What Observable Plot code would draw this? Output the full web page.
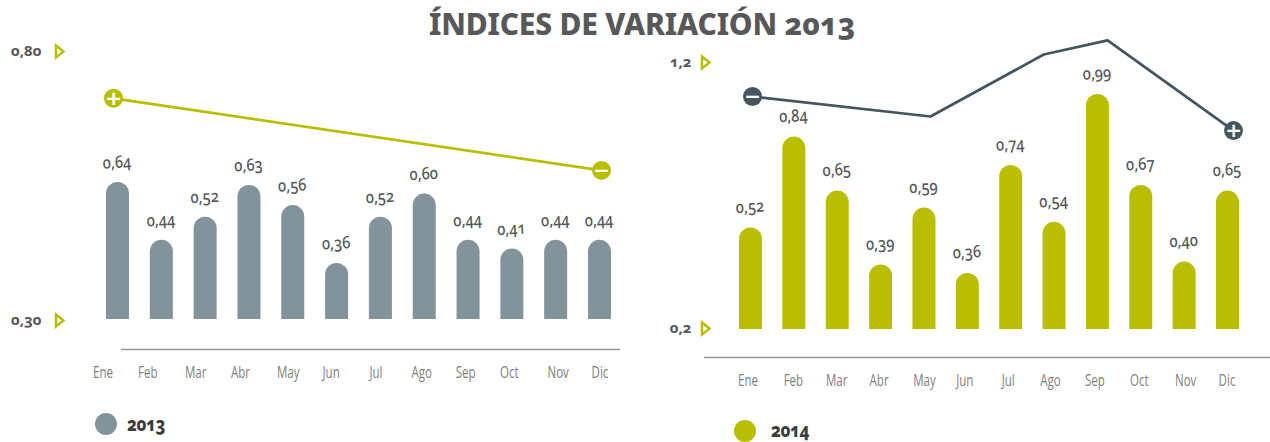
<!DOCTYPE html>
<html><head><meta charset="utf-8">
<script src="https://cdn.jsdelivr.net/npm/d3@7"></script>
<script src="https://cdn.jsdelivr.net/npm/@observablehq/plot@0.6"></script>
<style>
html,body{margin:0;padding:0;background:#fff;overflow:hidden}
#wrap{position:relative;width:1270px;height:442px}
#wrap svg{position:absolute;left:0;top:0;background:transparent}
#wrap svg text{font-feature-settings:"onum"}
h1{position:absolute;left:0;width:1284px;top:0;margin:0;text-align:center;font:800 30px/47px "Noto Sans";color:#58585a;font-feature-settings:"onum";letter-spacing:-.2px;z-index:2}
.lg{position:absolute;font:800 19px/24px "Noto Sans";color:#3c3c3c;font-feature-settings:"onum";letter-spacing:-.5px;transform:scaleX(.88);transform-origin:left}
.dotk{position:absolute;width:22px;height:22px;border-radius:50%}
</style></head><body>
<div id="wrap">
<h1>ÍNDICES DE VARIACIÓN 2013</h1>
<span class="dotk" style="left:95px;top:413px;background:#83939b"></span><span class="lg" style="left:127px;top:412px">2013</span>
<span class="dotk" style="left:734px;top:420px;background:#b9bf00"></span><span class="lg" style="left:771px;top:418px">2014</span>
</div>
<script>
const months = ["Ene","Feb","Mar","Abr","May","Jun","Jul","Ago","Sep","Oct","Nov","Dic"];
const values2013 = [0.64,0.44,0.52,0.63,0.56,0.36,0.52,0.60,0.44,0.41,0.44,0.44];
const values2014 = [0.52,0.84,0.65,0.39,0.59,0.36,0.74,0.54,0.99,0.67,0.40,0.65];
const lineIdx2013 = [0,11];
const lineVal2013 = [0.713,0.579];
const lineIdx2014 = [0,4.07,6.66,8.12,11];
const lineVal2014 = [1.072,0.997,1.23,1.283,0.944];
const ticks2013 = [0.30,0.80];
const ticks2014 = [0.2,1.2];
const monthDx2013 = [-15,-14,-10,-9,-5,-6,-5,-3,-3,-3,2,0];
const monthDx2014 = [-3,-1,-1,-2,0,-3,-3,-4,-3,-2,1,-1];

const num = "'Noto Sans'", thin = "'Open Sans'";
const lime = "#b9bf00", grey = "#83939b", slate = "#43555f", ink = "#58585a";
const comma = f => v => v.toFixed(f).replace(".", ",");
const tickSymbol = {draw(ctx){ctx.moveTo(-3.5,-6);ctx.lineTo(4,0);ctx.lineTo(-3.5,6);ctx.closePath();}};

function condense(svg){
  svg.querySelectorAll("text").forEach(t=>{
    const k = months.includes(t.textContent) ? 0.72 : 0.86;
    t.setAttribute("textLength",t.getComputedTextLength()*k);
    t.setAttribute("lengthAdjust","spacingAndGlyphs");
  });
}
function panel(c){
  const rows = months.map((m,i)=>({m, v:c.values[i]}));
  const bars = Plot.plot({
    width:1270,height:442,marginLeft:c.ruleL,marginRight:1270-c.ruleR,marginTop:0,marginBottom:442-c.ruleY,
    x:{type:"band",domain:months,range:c.barRange,paddingInner:c.pad,paddingOuter:0,round:false,axis:null},
    y:{domain:c.yDomain,range:c.yRange,axis:null},
    marks:[
      Plot.ruleY([c.yDomain[0]],{stroke:"#999",strokeWidth:1.5}),
      Plot.barY(rows,{x:"m",y1:c.base,y2:"v",fill:c.fill,ry1:11.5,rx1y1:11.5,rx2y1:11.5}),
      Plot.text(rows,{x:"m",y:"v",text:d=>d.v.toFixed(2).replace(".",","),dy:c.labelDy,dx:-1,fontFamily:num,fontSize:17,fontWeight:500,fill:ink,rotate:-3}),
      ...months.map((m,i)=>Plot.text([m],{x:d=>d,frameAnchor:"bottom",dy:28,dx:c.monthDx[i],fontFamily:thin,fontWeight:400,fontSize:16,fill:"#808080"}))
    ]
  });
  const overlay = Plot.plot({
    width:1270,height:442,margin:0,
    x:{domain:[0,11],range:c.lineX,axis:null},
    y:{domain:c.ticks,range:c.tickY,axis:null},
    marks:[
      Plot.line(c.lineIdx.map((x,i)=>[x,c.lineVal[i]]),{x:"0",y:"1",stroke:c.lineColor,strokeWidth:2.7,curve:"linear"}),
      Plot.dot([[c.lineIdx[0],c.lineVal[0]],[c.lineIdx.at(-1),c.lineVal.at(-1)]],{x:"0",y:"1",r:9.5,fill:c.lineColor}),
      Plot.text([[c.lineIdx[0],c.lineVal[0],c.signs[0]],[c.lineIdx.at(-1),c.lineVal.at(-1),c.signs[1]]],{x:"0",y:"1",text:"2",fill:"#fff",fontWeight:900,fontSize:20,fontFamily:"DejaVu Sans"}),
      Plot.text(c.ticks,{y:d=>d,text:comma(c.digits),frameAnchor:"left",textAnchor:"end",dx:c.tickTextX,fontFamily:num,fontWeight:700,fontSize:15,fill:ink}),
      Plot.dot(c.ticks,{y:d=>d,frameAnchor:"left",dx:c.tickMarkX,symbol:tickSymbol,r:4.5,fill:"#fff",stroke:lime,strokeWidth:2.5})
    ]
  });
  const w=document.getElementById("wrap");
  w.append(bars,overlay);
  condense(bars);
}
panel({values:values2013,fill:grey,barRange:[106,611],pad:0.475,base:0.166,labelDy:-20,
  yDomain:[0.062,0.64],yRange:[349,182],ruleL:121,ruleR:620,ruleY:349,monthDx:monthDx2013,
  lineIdx:lineIdx2013,lineVal:lineVal2013,lineColor:lime,lineX:[113,601],signs:["+","−"],
  ticks:ticks2013,tickY:[320,51],digits:2,tickTextX:41,tickMarkX:59});
panel({values:values2014,fill:lime,barRange:[739,1239],pad:0.47,base:0.1626,labelDy:-21,
  yDomain:[0.064,0.99],yRange:[357,94],ruleL:704,ruleR:1270,ruleY:357,monthDx:monthDx2014,
  lineIdx:lineIdx2014,lineVal:lineVal2014,lineColor:slate,lineX:[752,1233],signs:["−","+"],
  ticks:ticks2014,tickY:[328,62],digits:1,tickTextX:691,tickMarkX:705});
</script>
</body></html>
